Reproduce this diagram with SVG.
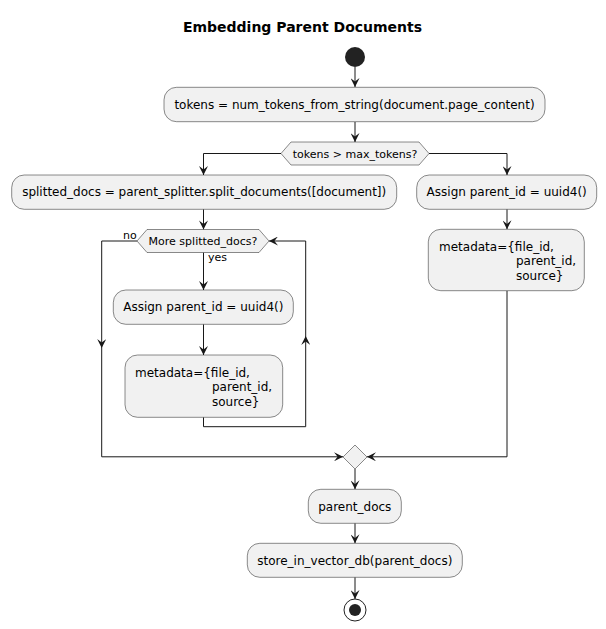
<svg xmlns="http://www.w3.org/2000/svg" width="606" height="629" viewBox="0 0 606 629">
<style>
.box{fill:#F1F1F1;stroke:#181818;stroke-width:0.5}
.t{font-family:"DejaVu Sans","Liberation Sans",sans-serif;font-size:12px;fill:#000}
.s{font-family:"DejaVu Sans","Liberation Sans",sans-serif;font-size:11px;fill:#000}
.title{font-family:"DejaVu Sans","Liberation Sans",sans-serif;font-size:14px;font-weight:bold;fill:#000}
.c{fill:none;stroke:#181818;stroke-width:1}
.ah{marker-end:url(#arr)}
</style>
<defs>
<marker id="arr" viewBox="0 0 10 10" refX="10" refY="5" markerWidth="10" markerHeight="9" markerUnits="userSpaceOnUse" orient="auto">
<path d="M0,0 L10,5 L0,10 L4,5 Z" fill="#181818"/>
</marker>
</defs>
<rect width="606" height="629" fill="#FFFFFF"/>
<text class="title" x="302.5" y="32" text-anchor="middle">Embedding Parent Documents</text>

<g id="connectors">
<path class="c ah" d="M355,67 L355,87"/>
<path class="c ah" d="M355,122 L355,142"/>
<path class="c ah" d="M281,153.5 L203.5,153.5 L203.5,175"/>
<path class="c ah" d="M429,153.5 L507,153.5 L507,175"/>
<path class="c ah" d="M203.5,209.3 L203.5,229.5"/>
<path class="c ah" d="M203.5,252.5 L203.5,290"/>
<path class="c ah" d="M203.5,324.3 L203.5,355"/>
<path class="c ah" d="M203.5,417.3 L203.5,426.7 L305.7,426.7 L305.7,336"/>
<path class="c ah" d="M305.7,336 L305.7,241 L269,241"/>
<path class="c ah" d="M137,241 L101.7,241 L101.7,348"/>
<path class="c ah" d="M101.7,348 L101.7,456.8 L343,456.8"/>
<path class="c ah" d="M507,209.3 L507,229.3"/>
<path class="c ah" d="M507,290.7 L507,456.8 L367,456.8"/>
<path class="c ah" d="M355,469 L355,489.3"/>
<path class="c ah" d="M355,523.3 L355,543.3"/>
<path class="c ah" d="M355,577.3 L355,599"/>
<text class="s" x="208" y="261">yes</text>
<text class="s" x="123" y="239">no</text>
</g>

<g id="start"><circle cx="355" cy="57" r="10" fill="#222222"/></g>

<g id="tokens">
<rect class="box" x="164" y="87.3" width="381" height="34.4" rx="12.5"/>
<text class="t" x="354.5" y="108.5" text-anchor="middle">tokens = num_tokens_from_string(document.page_content)</text>
</g>

<g id="decision_tokens">
<polygon class="box" points="281,153.5 291,142 419,142 429,153.5 419,165 291,165"/>
<text class="s" x="355" y="157.5" text-anchor="middle">tokens &gt; max_tokens?</text>
</g>

<g id="split">
<rect class="box" x="11.7" y="175" width="385" height="34.3" rx="12.5"/>
<text class="t" x="204.2" y="196.3" text-anchor="middle">splitted_docs = parent_splitter.split_documents([document])</text>
</g>

<g id="loop_decision">
<polygon class="box" points="137,241 147,229.5 259,229.5 269,241 259,252.5 147,252.5"/>
<text class="s" x="203" y="245" text-anchor="middle">More splitted_docs?</text>
</g>

<g id="assign_left">
<rect class="box" x="113.3" y="290" width="180" height="34.3" rx="12.5"/>
<text class="t" x="203.3" y="311.3" text-anchor="middle">Assign parent_id = uuid4()</text>
</g>

<g id="metadata_left">
<rect class="box" x="125" y="355" width="157.7" height="62.3" rx="12.5"/>
<text class="t" x="135" y="376.5">metadata={file_id,</text>
<text class="t" x="212" y="391">parent_id,</text>
<text class="t" x="212" y="405.5">source}</text>
</g>

<g id="assign_right">
<rect class="box" x="416.7" y="175" width="180" height="34.3" rx="12.5"/>
<text class="t" x="506.7" y="196.3" text-anchor="middle">Assign parent_id = uuid4()</text>
</g>

<g id="metadata_right">
<rect class="box" x="428.3" y="229.3" width="156" height="61.4" rx="12.5"/>
<text class="t" x="439" y="250.5">metadata={file_id,</text>
<text class="t" x="516" y="265">parent_id,</text>
<text class="t" x="516" y="279.5">source}</text>
</g>

<g id="merge">
<polygon class="box" points="355,445 367,457 355,469 343,457"/>
</g>

<g id="parent_docs">
<rect class="box" x="308.3" y="489.3" width="93" height="34" rx="12.5"/>
<text class="t" x="354.8" y="510.5" text-anchor="middle">parent_docs</text>
</g>

<g id="store">
<rect class="box" x="247.3" y="543.3" width="215" height="34" rx="12.5"/>
<text class="t" x="354.8" y="564.5" text-anchor="middle">store_in_vector_db(parent_docs)</text>
</g>

<g id="end">
<circle cx="355" cy="610" r="11" fill="none" stroke="#222222" stroke-width="1"/>
<circle cx="355" cy="610" r="6" fill="#222222"/>
</g>
</svg>
